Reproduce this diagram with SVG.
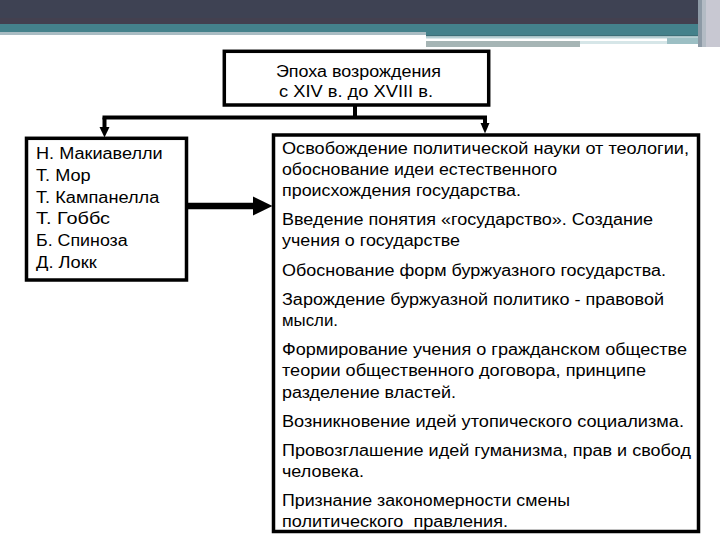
<svg xmlns="http://www.w3.org/2000/svg" width="720" height="540" viewBox="0 0 720 540">
<style>
.box{fill:#ffffff;stroke:#000000;stroke-width:3.5}
.t{font-family:"Liberation Sans",Arial,sans-serif;font-size:15.6px;fill:#000000}
.ln{stroke:#000000;stroke-width:4;fill:none}
.ah{fill:#000000}
</style>
<rect x="0" y="0" width="720" height="540" fill="#ffffff"/>
<g id="header">
<rect x="0" y="0" width="720" height="19" fill="#3e4253"/>
<rect x="0" y="18" width="720" height="6" fill="#43404f"/>
<rect x="0" y="24" width="720" height="8" fill="#44818b"/>
<rect x="0" y="32" width="426" height="3" fill="#a9bcc3"/>
<rect x="426" y="32" width="272" height="3" fill="#44818b"/>
<rect x="426" y="35" width="272" height="1.5" fill="#3d6f78"/>
<rect x="426" y="36.5" width="272" height="2" fill="#b7d0d4"/>
<rect x="426" y="41" width="154" height="6" fill="#a6b5b5"/>
<rect x="580" y="41" width="87" height="3" fill="#d6e6e8"/>
<rect x="667" y="38" width="31" height="6" fill="#9cbfc4"/>
<rect x="698" y="0" width="4" height="47" fill="#8d9aa6"/>
<rect x="702" y="0" width="4" height="47" fill="#b3bbc4"/>
<rect x="706" y="0" width="14" height="47" fill="#c8c8d2"/>
</g>
<g id="connectors">
<line class="ln" x1="355" y1="105" x2="355" y2="117.5"/>
<line class="ln" x1="102.5" y1="117.5" x2="487" y2="117.5"/>
<line class="ln" x1="104.5" y1="117.5" x2="104.5" y2="129"/>
<polygon class="ah" points="99.5,127 109.5,127 104.5,137.5"/>
<line class="ln" x1="485" y1="117.5" x2="485" y2="124"/>
<polygon class="ah" points="480.5,123 489.5,123 485,133.5"/>
<line stroke="#000" stroke-width="6.5" x1="187" y1="206" x2="255" y2="206"/>
<polygon class="ah" points="253,196.5 253,215.5 272.5,206"/>
</g>
<g id="node-epoch">
<rect class="box" x="224.3" y="51.3" width="264.4" height="53.7"/>
<text class="t" x="276" y="76.7" textLength="165" lengthAdjust="spacingAndGlyphs">Эпоха возрождения</text>
<text class="t" x="279" y="97.3" textLength="154" lengthAdjust="spacingAndGlyphs">с XIV в. до XVIII в.</text>
</g>
<g id="node-thinkers">
<rect class="box" x="26.5" y="138.3" width="160" height="141.7"/>
<text class="t" x="36" y="159" textLength="126.7" lengthAdjust="spacingAndGlyphs">Н. Макиавелли</text>
<text class="t" x="36" y="181" textLength="54.7" lengthAdjust="spacingAndGlyphs">Т. Мор</text>
<text class="t" x="36" y="202.7" textLength="123.3" lengthAdjust="spacingAndGlyphs">Т. Кампанелла</text>
<text class="t" x="36" y="224" textLength="74" lengthAdjust="spacingAndGlyphs">Т. Гоббс</text>
<text class="t" x="36" y="246" textLength="91.7" lengthAdjust="spacingAndGlyphs">Б. Спиноза</text>
<text class="t" x="36" y="267.7" textLength="60.7" lengthAdjust="spacingAndGlyphs">Д. Локк</text>
</g>
<g id="node-ideas">
<rect class="box" x="273.5" y="135" width="425" height="396.5"/>
<text class="t" x="282" y="153.5" textLength="407" lengthAdjust="spacingAndGlyphs">Освобождение политической науки от теологии,</text>
<text class="t" x="282" y="174.5" textLength="275" lengthAdjust="spacingAndGlyphs">обоснование идеи естественного</text>
<text class="t" x="282" y="195.5" textLength="239" lengthAdjust="spacingAndGlyphs">происхождения государства.</text>
<text class="t" x="282" y="224.5" textLength="371" lengthAdjust="spacingAndGlyphs">Введение понятия «государство». Создание</text>
<text class="t" x="282" y="245.5" textLength="178" lengthAdjust="spacingAndGlyphs">учения о государстве</text>
<text class="t" x="282" y="275.5" textLength="384" lengthAdjust="spacingAndGlyphs">Обоснование форм буржуазного государства.</text>
<text class="t" x="282" y="305" textLength="382" lengthAdjust="spacingAndGlyphs">Зарождение буржуазной политико - правовой</text>
<text class="t" x="282" y="326" textLength="56" lengthAdjust="spacingAndGlyphs">мысли.</text>
<text class="t" x="282" y="355" textLength="405" lengthAdjust="spacingAndGlyphs">Формирование учения о гражданском обществе</text>
<text class="t" x="282" y="376" textLength="364" lengthAdjust="spacingAndGlyphs">теории общественного договора, принципе</text>
<text class="t" x="282" y="397.5" textLength="174" lengthAdjust="spacingAndGlyphs">разделение властей.</text>
<text class="t" x="282" y="426.5" textLength="402" lengthAdjust="spacingAndGlyphs">Возникновение идей утопического социализма.</text>
<text class="t" x="282" y="455.5" textLength="409" lengthAdjust="spacingAndGlyphs">Провозглашение идей гуманизма, прав и свобод</text>
<text class="t" x="282" y="476.5" textLength="82" lengthAdjust="spacingAndGlyphs">человека.</text>
<text class="t" x="282" y="505.5" textLength="288" lengthAdjust="spacingAndGlyphs">Признание закономерности смены</text>
<text class="t" x="282" y="526.5" textLength="226" lengthAdjust="spacingAndGlyphs" style="white-space:pre">политического  правления.</text>
</g>
</svg>
